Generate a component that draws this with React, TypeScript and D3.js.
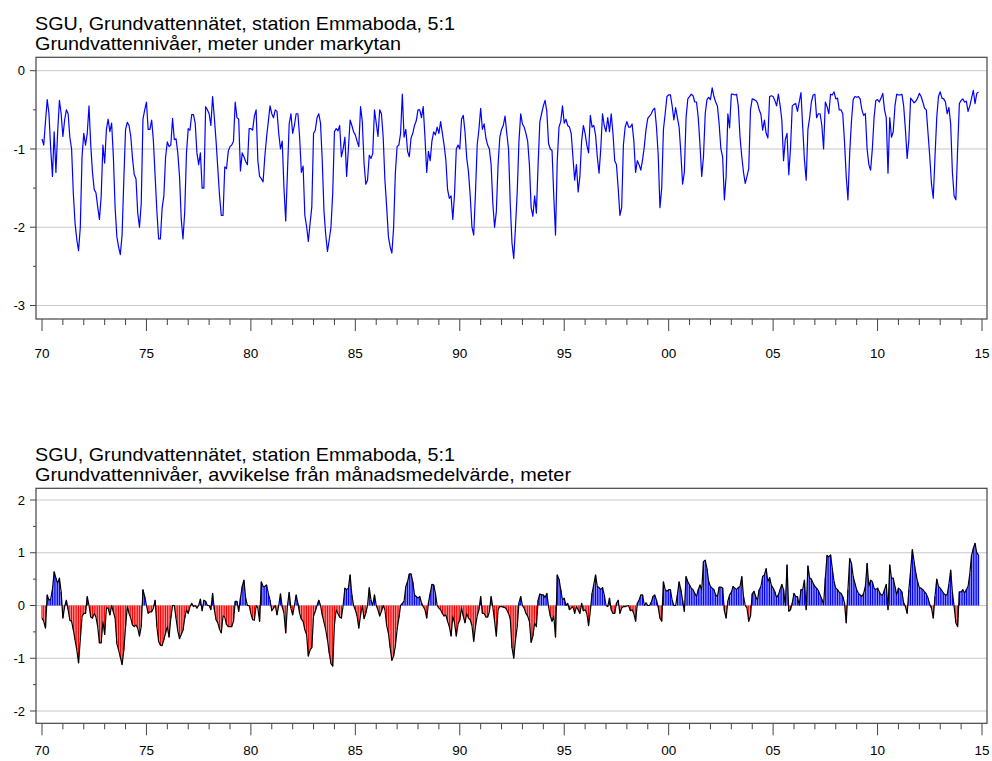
import React from "react";
import * as d3 from "d3";

// Monthly groundwater level, metres below ground (Jan 1970 .. Nov 2014)
const levels1970s = [
  -0.87,-0.95,-0.65,-0.37,-0.55,-1.0,-1.35,-0.78,-1.3,-0.78,-0.38,-0.55,
  -0.84,-0.63,-0.5,-0.55,-0.85,-1.0,-1.57,-1.95,-2.16,-2.3,-2.0,-1.1,
  -0.8,-0.95,-0.8,-0.45,-0.95,-1.3,-1.52,-1.56,-1.74,-1.9,-1.6,-0.95,
  -1.18,-0.75,-0.62,-0.78,-0.67,-1.1,-1.75,-2.12,-2.25,-2.35,-2.1,-1.4,
  -0.75,-0.66,-0.7,-0.84,-1.12,-1.33,-1.38,-1.82,-2.0,-1.7,-0.62,-0.5,
  -0.4,-0.75,-0.75,-0.63,-0.9,-1.35,-1.8,-2.15,-2.15,-1.76,-1.6,-1.1,
  -0.91,-0.97,-0.95,-0.61,-0.88,-0.87,-1.05,-1.35,-1.9,-2.15,-1.8,-1.05,
  -0.74,-0.76,-0.56,-0.56,-0.67,-1.05,-1.2,-1.05,-1.5,-1.5,-0.46,-0.5,
  -0.55,-0.7,-0.33,-0.6,-0.9,-1.25,-1.6,-1.85,-1.85,-1.23,-1.25,-1.03,
  -0.97,-0.95,-0.9,-0.4,-0.6,-0.62,-1.28,-1.05,-1.1,-1.16,-1.2,-0.74,
];
const levels1980s = [
  -0.74,-0.76,-0.58,-0.5,-1.15,-1.35,-1.38,-1.42,-1.1,-0.85,-0.65,-0.45,
  -0.55,-0.6,-0.5,-0.52,-0.8,-1.0,-0.9,-1.5,-1.92,-1.3,-0.68,-0.55,
  -0.8,-0.7,-0.55,-0.55,-0.85,-1.3,-1.22,-1.85,-1.99,-2.18,-1.95,-1.74,
  -0.8,-0.76,-0.6,-0.55,-0.67,-1.15,-1.8,-2.1,-2.31,-2.16,-2.0,-1.57,
  -0.78,-0.74,-0.77,-0.7,-1.1,-1.0,-0.85,-1.35,-1.0,-0.63,-0.7,-0.78,
  -0.82,-0.9,-0.97,-0.46,-0.65,-1.18,-1.45,-1.4,-1.08,-1.12,-1.06,-0.5,
  -0.67,-0.84,-0.5,-0.55,-0.85,-1.4,-1.74,-2.12,-2.25,-2.33,-2.0,-1.3,
  -0.97,-0.95,-0.8,-0.3,-0.85,-0.75,-1.03,-1.1,-0.86,-0.8,-0.7,-0.64,
  -0.5,-0.5,-0.6,-0.46,-0.85,-1.3,-1.03,-1.15,-0.9,-0.78,-0.82,-0.72,
  -0.8,-0.65,-0.8,-0.95,-1.14,-1.52,-1.63,-1.6,-1.9,-1.57,-1.0,-0.95,
];
const levels1990s = [
  -1.0,-0.62,-0.57,-0.78,-1.12,-1.29,-1.6,-2.0,-2.1,-1.57,-0.95,-0.75,
  -0.48,-0.75,-0.68,-0.86,-0.95,-1.0,-1.2,-1.7,-2.0,-1.8,-1.2,-0.85,
  -0.75,-0.7,-0.58,-0.8,-1.0,-1.7,-2.2,-2.4,-2.0,-1.55,-0.9,-0.55,
  -0.68,-0.72,-0.8,-0.9,-1.2,-1.75,-1.86,-1.6,-1.82,-1.2,-0.65,-0.55,
  -0.45,-0.38,-0.52,-0.93,-1.0,-1.02,-1.6,-2.1,-1.15,-0.72,-0.65,-0.45,
  -0.67,-0.62,-0.7,-0.72,-0.8,-1.1,-1.4,-1.2,-1.55,-1.35,-0.9,-0.7,
  -0.8,-0.95,-1.05,-0.57,-0.72,-0.7,-0.82,-1.1,-1.31,-1.0,-0.55,-0.7,
  -0.78,-0.6,-0.78,-0.55,-0.8,-1.15,-1.2,-1.5,-1.85,-1.75,-0.95,-0.72,
  -0.65,-0.72,-0.72,-0.68,-0.9,-1.3,-1.15,-1.2,-1.27,-1.14,-0.97,-0.75,
  -0.61,-0.58,-0.55,-0.5,-0.48,-0.72,-1.08,-1.75,-1.5,-0.75,-0.55,-0.33,
];
const levels2000s = [
  -0.31,-0.31,-0.45,-0.63,-0.47,-0.6,-0.72,-1.05,-1.45,-1.3,-0.6,-0.36,
  -0.33,-0.3,-0.32,-0.4,-0.4,-0.6,-0.95,-1.35,-1.1,-0.55,-0.37,-0.34,
  -0.37,-0.22,-0.33,-0.4,-0.45,-0.68,-1.0,-1.1,-1.65,-1.35,-0.55,-0.73,
  -0.3,-0.3,-0.31,-0.3,-0.45,-0.85,-1.1,-1.3,-1.44,-1.35,-1.25,-0.5,
  -0.36,-0.37,-0.38,-0.41,-0.5,-0.56,-0.76,-0.63,-0.8,-0.86,-0.33,-0.32,
  -0.33,-0.38,-0.45,-0.3,-0.44,-0.63,-1.15,-0.88,-0.8,-1.33,-0.99,-0.45,
  -0.43,-0.42,-0.52,-0.4,-0.28,-0.72,-1.14,-1.4,-0.75,-0.6,-0.4,-0.31,
  -0.3,-0.6,-0.55,-0.55,-0.7,-1.0,-0.4,-0.46,-0.55,-0.3,-0.31,-0.27,
  -0.36,-0.35,-0.5,-0.5,-0.55,-0.9,-1.35,-1.65,-1.05,-0.65,-0.37,-0.33,
  -0.34,-0.33,-0.36,-0.5,-0.57,-0.55,-1.0,-1.2,-1.27,-1.0,-0.6,-0.38,
];
const levels2010s = [
  -0.37,-0.4,-0.35,-0.29,-0.5,-0.6,-1.31,-0.6,-0.85,-0.78,-0.45,-0.3,
  -0.31,-0.31,-0.3,-0.45,-0.75,-1.12,-0.88,-0.35,-0.38,-0.41,-0.39,-0.35,
  -0.29,-0.33,-0.4,-0.48,-0.5,-0.8,-1.1,-1.45,-1.63,-1.1,-0.6,-0.33,
  -0.27,-0.35,-0.36,-0.4,-0.55,-0.47,-0.68,-1.3,-1.6,-1.65,-1.0,-0.42,
  -0.38,-0.36,-0.4,-0.39,-0.52,-0.45,-0.35,-0.25,-0.42,-0.29,-0.27,
];

// Monthly deviation from the monthly mean, metres (Jan 1970 .. Nov 2014)
const anomalies1970s = [
  -0.24,-0.3,-0.43,0.2,0.1,0.12,0.3,0.64,0.52,0.42,0.52,0.26,
  -0.24,-0.02,0.1,-0.08,-0.28,-0.3,-0.46,-0.65,-0.84,-1.09,-0.65,-0.21,
  -0.15,-0.15,0.17,0.0,-0.22,-0.24,-0.15,-0.22,-0.4,-0.71,-0.71,-0.3,
  -0.55,-0.05,-0.05,-0.18,0.0,-0.12,-0.24,-0.72,-0.84,-0.98,-1.12,-0.85,
  -0.4,-0.02,-0.15,-0.24,-0.37,-0.4,-0.37,-0.43,-0.58,-0.4,0.3,0.17,
  0.0,-0.15,-0.12,-0.12,-0.05,0.1,-0.4,-0.68,-0.75,-0.76,-0.65,-0.52,
  -0.4,-0.6,-0.24,0.0,0.0,-0.24,-0.48,-0.63,-0.55,-0.47,-0.24,-0.08,
  -0.15,-0.02,0.04,-0.02,0.0,-0.05,0.0,0.12,-0.1,0.1,0.08,0.0,
  0.0,-0.08,0.23,-0.08,-0.27,-0.33,-0.45,-0.52,-0.2,-0.22,-0.36,-0.4,
  -0.4,-0.4,-0.3,0.08,0.08,-0.11,0.14,0.36,0.48,0.14,0.0,0.0,
];
const anomalies1980s = [
  -0.15,-0.27,-0.28,0.0,-0.05,-0.3,0.45,0.36,0.36,0.39,0.23,0.1,
  -0.1,-0.05,0.0,-0.18,0.0,0.22,-0.03,-0.14,-0.52,0.0,0.25,-0.05,
  -0.18,0.0,0.2,0.04,-0.15,-0.26,-0.3,-0.46,-0.55,-0.96,-0.84,-0.8,
  -0.2,-0.11,0.0,0.1,0.0,-0.18,-0.32,-0.46,-0.65,-0.9,-1.1,-1.15,
  -0.36,-0.08,-0.15,-0.22,-0.24,0.0,0.33,0.3,0.33,0.58,0.2,0.0,
  -0.08,-0.2,-0.43,-0.18,0.0,-0.25,-0.15,0.0,0.34,0.1,0.0,0.2,
  0.0,-0.08,-0.2,-0.11,0.0,-0.08,-0.38,-0.52,-0.8,-1.04,-0.96,-0.77,
  -0.45,-0.24,0.0,0.04,0.08,0.36,0.45,0.6,0.6,0.45,0.2,0.17,
  0.14,0.17,0.05,-0.02,-0.08,-0.24,0.05,0.23,0.4,0.39,0.23,0.0,
  -0.05,-0.08,-0.15,-0.2,-0.18,-0.3,-0.4,-0.58,-0.2,-0.33,-0.58,-0.35,
];
const anomalies1990s = [
  -0.28,-0.05,-0.2,-0.33,-0.15,-0.24,-0.27,-0.38,-0.68,-0.4,-0.2,-0.08,
  0.17,-0.15,-0.15,-0.22,-0.22,-0.12,0.17,-0.03,-0.3,-0.58,-0.08,-0.02,
  -0.02,-0.03,-0.04,-0.08,-0.15,-0.25,-0.8,-1.0,-0.65,-0.4,0.05,0.17,
  0.0,-0.05,-0.15,-0.2,-0.3,-0.7,-0.58,-0.33,-0.4,0.1,0.22,0.2,
  0.2,0.15,0.23,-0.02,-0.2,-0.3,-0.2,-0.6,0.58,0.5,0.3,0.1,
  0.14,0.0,0.04,-0.08,-0.05,-0.02,-0.15,-0.02,-0.08,-0.15,0.04,-0.1,
  -0.08,-0.15,-0.38,-0.1,0.23,0.4,0.58,0.36,0.34,0.3,0.34,0.2,
  0.0,-0.02,0.14,-0.08,-0.15,-0.15,0.04,0.1,-0.15,-0.05,-0.02,-0.02,
  -0.01,0.0,-0.1,-0.08,-0.15,-0.3,0.04,0.1,0.2,0.2,0.0,0.05,
  0.0,0.0,0.06,0.17,0.2,0.1,-0.03,-0.24,-0.3,0.45,0.3,0.27,
];
const anomalies2000s = [
  0.3,0.3,0.1,0.0,0.0,0.2,0.45,0.3,0.1,-0.11,0.55,0.45,
  0.39,0.33,0.3,0.23,0.17,0.3,0.39,0.3,0.83,0.86,0.7,0.45,
  0.36,0.33,0.3,0.2,0.17,0.35,0.35,0.33,-0.1,-0.24,0.08,0.2,
  0.25,0.36,0.33,0.3,0.34,0.36,0.55,0.17,0.0,-0.05,-0.3,-0.2,
  0.22,0.27,0.17,0.1,0.3,0.36,0.55,0.58,0.7,0.45,0.53,0.38,
  0.33,0.26,0.15,0.2,0.3,0.4,0.3,0.0,0.77,-0.11,-0.08,0.05,
  0.23,0.17,0.17,0.0,0.3,0.3,0.48,-0.08,0.75,0.52,0.5,0.42,
  0.36,0.33,0.28,0.2,0.12,0.02,0.52,0.95,0.92,0.96,0.7,0.45,
  0.33,0.3,0.25,0.23,0.17,0.05,-0.33,0.3,0.89,0.8,0.55,0.42,
  0.3,0.23,0.2,0.17,0.23,0.36,0.8,0.36,0.48,0.45,0.33,0.3,
];
const anomalies2010s = [
  0.33,0.26,0.2,0.2,0.3,0.4,-0.08,0.77,0.52,0.52,0.36,0.2,
  0.33,0.3,0.26,0.05,-0.02,-0.15,0.3,0.67,1.06,0.83,0.61,0.45,
  0.34,0.33,0.3,0.26,0.22,0.14,0.02,-0.05,-0.24,0.17,0.5,0.36,
  0.33,0.28,0.23,0.2,0.2,0.4,0.67,0.25,-0.02,-0.33,-0.4,0.26,
  0.26,0.3,0.23,0.3,0.36,0.6,0.95,1.08,1.18,1.0,0.96,
];

const startYear = 1970;
const endYear = 2015;
const yearTicks = d3.range(startYear, endYear + 1);
const topTicks = [0, -1, -2, -3];
const bottomTicks = [2, 1, 0, -1, -2];

const title1 = "SGU, Grundvattennätet, station Emmaboda, 5:1";
const title2Top = "Grundvattennivåer, meter under markytan";
const title2Bottom = "Grundvattennivåer, avvikelse från månadsmedelvärde, meter";

const levels = [...levels1970s, ...levels1980s, ...levels1990s, ...levels2000s, ...levels2010s];
const anomalies = [...anomalies1970s, ...anomalies1980s, ...anomalies1990s, ...anomalies2000s, ...anomalies2010s];

const FONT = "'Liberation Sans', Arial, Helvetica, sans-serif";
const W = 992;
const H = 761;
const frameL = 36;
const frameR = 987;

const x = d3.scaleLinear().domain([startYear, endYear]).range([42, 982]);
const tOf = (i: number) => startYear + i / 12;

function Panel({ top, bottom, y, ticks, minor, t2, t2Len, labelY }: any) {
  return (
    <g>
      <text x={35} y={top - 27.5} fontFamily={FONT} fontSize={18.5} fill="#000" textLength={420} lengthAdjust="spacingAndGlyphs">{title1}</text>
      <text x={35} y={top - 7} fontFamily={FONT} fontSize={18.5} fill="#000" textLength={t2Len} lengthAdjust="spacingAndGlyphs">{t2}</text>
      {ticks.map((v: number) => (
        <line key={"g" + v} x1={frameL} x2={frameR} y1={y(v)} y2={y(v)} stroke="#c8c8c8" strokeWidth={1} />
      ))}
      {ticks.map((v: number) => (
        <g key={"t" + v}>
          <line x1={frameL - 6} x2={frameL} y1={y(v)} y2={y(v)} stroke="#444" strokeWidth={1} />
          <text x={25} y={y(v)} dy="0.35em" textAnchor="end" fontFamily={FONT} fontSize={13} fill="#000">{String(v)}</text>
        </g>
      ))}
      {minor.map((v: number) => (
        <line key={"m" + v} x1={frameL - 3} x2={frameL} y1={y(v)} y2={y(v)} stroke="#444" strokeWidth={1} />
      ))}
      {yearTicks.map((yr) => {
        const major = yr % 5 === 0;
        return (
          <g key={"x" + yr}>
            <line x1={x(yr)} x2={x(yr)} y1={bottom} y2={bottom + (major ? 12 : 6)} stroke="#444" strokeWidth={1} />
            {major && (
              <text x={x(yr)} y={labelY} textAnchor="middle" fontFamily={FONT} fontSize={13.5} fill="#000">
                {String(yr % 100).padStart(2, "0")}
              </text>
            )}
          </g>
        );
      })}
    </g>
  );
}

export default function App() {
  const yTop = d3.scaleLinear().domain([0, -3]).range([70.7, 305.5]);
  const yBot = d3.scaleLinear().domain([2, -2]).range([500, 711]);
  const topTopY = 57.3, topBottomY = 319;
  const botTopY = 488.3, botBottomY = 723.3;

  const levelLine = d3.line<number>().x((_, i) => x(tOf(i))).y((v) => yTop(v));
  const anomLine = d3.line<number>().x((_, i) => x(tOf(i))).y((v) => yBot(v));
  const barW = (x(startYear + 1 / 12) - x(startYear)) * 0.72;

  return (
    <svg width={W} height={H} style={{ position: "absolute", left: 0, top: 0, background: "#fff" }}>
      <rect width={W} height={H} fill="#fff" />
      <Panel top={topTopY} bottom={topBottomY} y={yTop} ticks={topTicks} minor={[-0.5, -1.5, -2.5]} t2={title2Top} t2Len={366} labelY={358.3} />
      <path d={levelLine(levels) || ""} fill="none" stroke="#0000ff" strokeWidth={1.2} strokeLinejoin="round" />
      <rect x={frameL} y={topTopY} width={frameR - frameL} height={topBottomY - topTopY} fill="none" stroke="#444" strokeWidth={1.2} />

      <Panel top={botTopY} bottom={botBottomY} y={yBot} ticks={bottomTicks} minor={[1.5, 0.5, -0.5, -1.5]} t2={title2Bottom} t2Len={536} labelY={755} />
      {anomalies.map((v, i) => (
        <rect
          key={i}
          x={x(tOf(i)) - barW / 2}
          width={barW}
          y={Math.min(yBot(v), yBot(0))}
          height={Math.abs(yBot(v) - yBot(0))}
          fill={v >= 0 ? "#0000ff" : "#ff0000"}
        />
      ))}
      <path d={anomLine(anomalies) || ""} fill="none" stroke="#000" strokeWidth={1.2} strokeLinejoin="round" />
      <rect x={frameL} y={botTopY} width={frameR - frameL} height={botBottomY - botTopY} fill="none" stroke="#444" strokeWidth={1.2} />
    </svg>
  );
}
